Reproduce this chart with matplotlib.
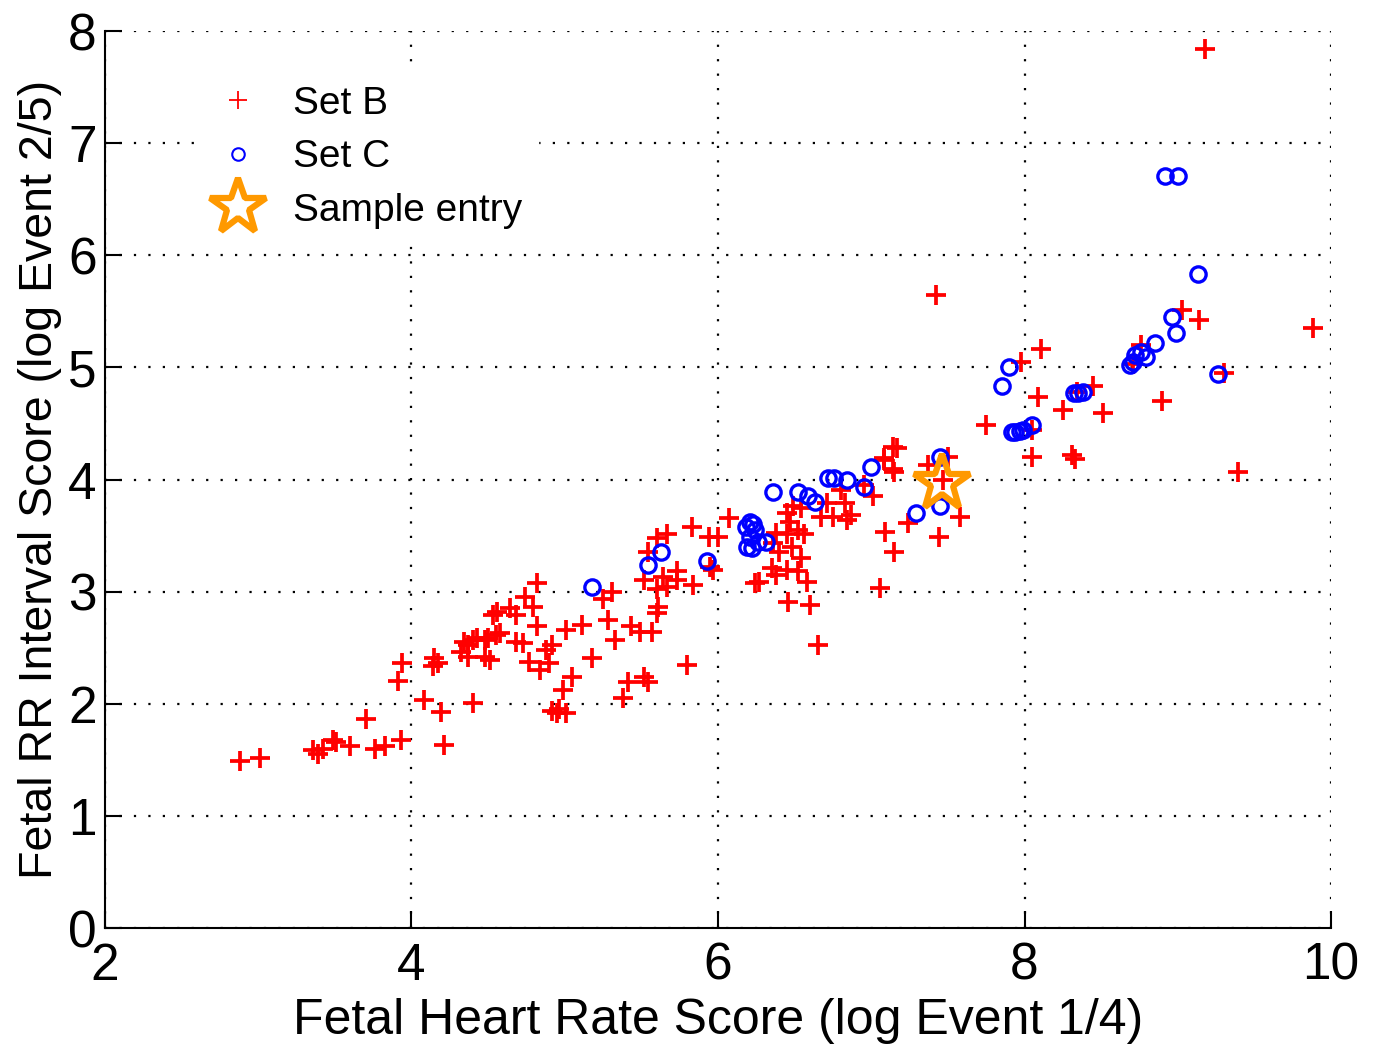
import matplotlib
matplotlib.use("Agg")
import matplotlib.pyplot as plt
from matplotlib.lines import Line2D
from matplotlib import font_manager

# ---------------- data ----------------
set_b_x = [2.88, 3.01, 3.36, 3.39, 3.42, 3.49, 3.51, 3.60, 3.70, 3.76, 3.83, 3.93, 3.91, 3.94,
           4.08, 4.15, 4.17, 4.14, 4.19, 4.21, 4.40, 4.34, 4.37, 4.40, 4.43, 4.48, 4.50, 4.53,
           4.56, 4.32, 4.37, 4.48, 4.51, 4.55, 4.58, 4.64, 4.68, 4.68, 4.73, 4.74, 4.79, 4.82,
           4.82, 4.77, 4.84, 4.88, 4.90, 4.92, 5.01, 5.11, 5.18, 5.05, 4.99, 4.92, 4.95, 4.96,
           5.01, 5.25, 5.31, 5.28, 5.33, 5.43, 5.49, 5.57, 5.41, 5.52, 5.54, 5.38, 5.61, 5.60,
           5.60, 5.52, 5.64, 5.73, 5.73, 5.67, 5.80, 5.84, 5.83, 5.67, 5.60, 5.54, 5.94, 6.00,
           6.07, 5.95, 5.97,
           6.45, 6.49, 6.54, 6.47, 6.38, 6.45, 6.52, 6.56, 6.36, 6.40, 6.48, 6.54, 6.35, 6.45,
           6.52, 6.27, 6.24, 6.38, 6.58, 6.46, 6.60, 6.65, 6.71, 6.75, 6.83, 6.84, 6.87, 6.67,
           6.80, 6.95, 7.01, 7.09, 7.15, 7.06, 7.08, 7.14, 7.14, 7.17, 7.08, 7.15, 7.42, 7.47,
           7.37, 7.58, 7.44, 7.24, 7.50,
           8.11, 7.98, 8.09, 7.75, 8.25, 8.45, 8.51, 8.05, 8.05, 8.31, 8.33, 8.34, 8.71, 8.76,
           8.90, 9.03, 9.14, 9.30, 9.88, 9.39, 9.18]
set_b_y = [1.49, 1.52, 1.59, 1.55, 1.60, 1.68, 1.66, 1.62, 1.86, 1.60, 1.62, 1.68, 2.20, 2.36,
           2.03, 2.41, 2.36, 2.34, 1.93, 1.63, 2.01, 2.55, 2.52, 2.57, 2.59, 2.57, 2.59, 2.79,
           2.82, 2.46, 2.42, 2.42, 2.39, 2.61, 2.63, 2.85, 2.79, 2.55, 2.54, 2.95, 2.86, 3.08,
           2.69, 2.37, 2.30, 2.48, 2.36, 2.52, 2.66, 2.70, 2.41, 2.24, 2.12, 1.94, 1.92, 1.95,
           1.92, 2.93, 3.00, 2.75, 2.57, 2.69, 2.64, 2.64, 2.19, 2.24, 2.19, 2.05, 2.86, 2.81,
           3.02, 3.10, 3.13, 3.18, 3.10, 3.04, 2.35, 3.06, 3.58, 3.51, 3.48, 3.35, 3.49, 3.49,
           3.66, 3.22, 3.19,
           3.70, 3.76, 3.75, 3.62, 3.52, 3.51, 3.55, 3.51, 3.43, 3.35, 3.40, 3.30, 3.21, 3.19,
           3.18, 3.09, 3.08, 3.15, 3.09, 2.91, 2.88, 2.52, 3.79, 3.67, 3.79, 3.64, 3.68, 3.67,
           3.91, 3.95, 3.85, 3.53, 3.35, 3.03, 4.19, 4.09, 4.29, 4.28, 4.17, 4.07, 5.65, 4.00,
           4.13, 3.67, 3.49, 3.61, 4.20,
           5.16, 5.05, 4.74, 4.49, 4.62, 4.83, 4.59, 4.44, 4.20, 4.22, 4.18, 4.78, 5.03, 5.20,
           4.70, 5.51, 5.42, 4.95, 5.35, 4.07, 7.84]

set_c_x = [5.18, 5.54, 5.63, 5.93, 6.18, 6.21, 6.24, 6.21, 6.26, 6.31, 6.22, 6.19, 6.23, 6.36,
           6.52, 6.59, 6.63, 6.72, 6.76, 6.84, 6.95, 7.00, 7.29, 7.45, 7.45, 7.85, 7.90, 7.94,
           7.92, 7.97, 7.99, 8.05, 8.32, 8.35, 8.38, 8.69, 8.71, 8.72, 8.76, 8.79, 8.85, 8.96,
           8.99, 9.13, 8.92, 9.00, 9.26]
set_c_y = [3.04, 3.24, 3.35, 3.27, 3.58, 3.62, 3.55, 3.49, 3.44, 3.44, 3.39, 3.40, 3.60, 3.89,
           3.89, 3.85, 3.80, 4.01, 4.01, 4.00, 3.93, 4.11, 3.70, 3.76, 4.20, 4.83, 5.00, 4.42,
           4.42, 4.43, 4.44, 4.49, 4.77, 4.77, 4.78, 5.02, 5.05, 5.11, 5.14, 5.09, 5.22, 5.45,
           5.31, 5.83, 6.71, 6.71, 4.94]

sample_x = [7.46]
sample_y = [3.97]

x_ticks = [2, 4, 6, 8, 10]
y_ticks = [0, 1, 2, 3, 4, 5, 6, 7, 8]
legend_labels = ["Set B", "Set C", "Sample entry"]
x_label = "Fetal Heart Rate Score (log Event 1/4)"
y_label = "Fetal RR Interval Score (log Event 2/5)"

# ---------------- style ----------------
avail = {f.name for f in font_manager.fontManager.ttflist}
base_font = [f for f in ["Liberation Sans", "DejaVu Sans"] if f in avail] or ["DejaVu Sans"]
plt.rcParams['font.family'] = base_font

fig = plt.figure(figsize=(13.76, 10.51), dpi=100)
ax = fig.add_axes([0.0763, 0.117, 0.8910, 0.8535])

ax.plot(set_b_x, set_b_y, linestyle='none', marker='+', color='#ff0000',
        markersize=15, markeredgewidth=2.7, zorder=3)
ax.plot(set_c_x, set_c_y, linestyle='none', marker='o', markerfacecolor='none',
        markeredgecolor='#0000ff', markersize=11, markeredgewidth=2.4, zorder=4)
ax.plot(sample_x, sample_y, linestyle='none', marker='*', markerfacecolor='none',
        markeredgecolor='#ff9900', markersize=42, markeredgewidth=4.5, zorder=5)

ax.set_xlim(2, 10)
ax.set_ylim(0, 8)
ax.set_xticks(x_ticks)
ax.set_yticks(y_ticks)
ax.tick_params(direction='in', length=12, width=1.5, labelsize=37,
               top=False, right=False)
ax.tick_params(axis='x', pad=10)
ax.tick_params(axis='y', pad=6)
for s in ['top', 'right']:
    ax.spines[s].set_visible(False)
for s in ['left', 'bottom']:
    ax.spines[s].set_linewidth(1.5)
ax.grid(True, color='black', linestyle=(0, (1, 5.5)), linewidth=1.6)
ax.set_axisbelow(True)

ax.set_xlabel(x_label, fontsize=36, labelpad=5)
ax.set_ylabel(y_label, fontsize=33.5, labelpad=4)

handles = [
    Line2D([], [], linestyle='none', marker='+', color='#ff0000', markersize=13, markeredgewidth=1.3),
    Line2D([], [], linestyle='none', marker='o', markerfacecolor='none', markeredgecolor='#0000ff',
           markersize=9, markeredgewidth=1.5),
    Line2D([], [], linestyle='none', marker='*', markerfacecolor='none', markeredgecolor='#ff9900',
           markersize=42, markeredgewidth=4.5),
]
leg = ax.legend(handles, legend_labels, loc='upper left', bbox_to_anchor=(0.058, 0.978),
                fontsize=28, frameon=True, fancybox=False, edgecolor='white',
                facecolor='white', framealpha=1.0, handlelength=1.4, handletextpad=0.7,
                labelspacing=0.45, borderpad=0.4)
leg.set_zorder(10)

fig.savefig("out.png", dpi=100)
